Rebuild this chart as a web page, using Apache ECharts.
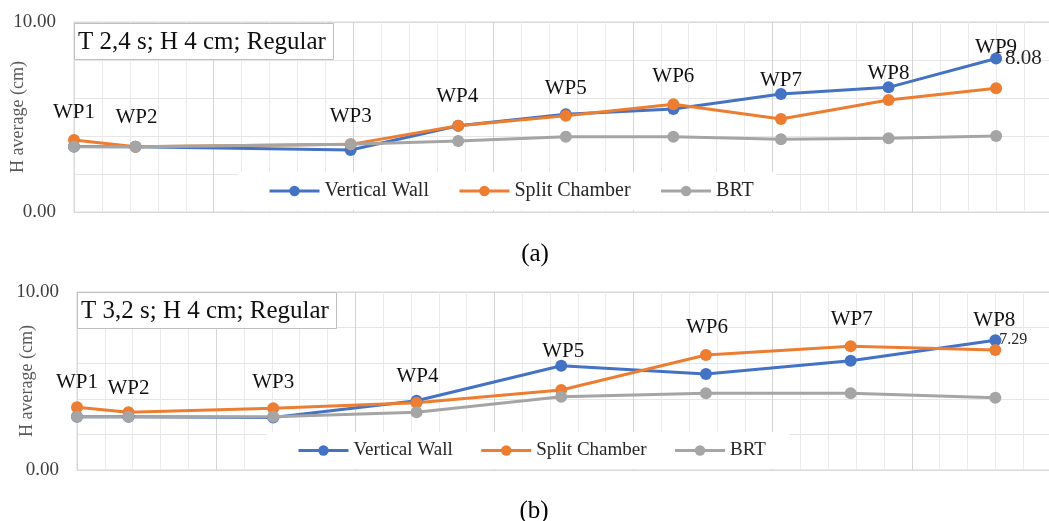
<!DOCTYPE html>
<html>
<head>
<meta charset="utf-8">
<title>H average along wave probes</title>
<script src="https://cdn.jsdelivr.net/npm/echarts@6/dist/echarts.min.js"></script>
<style>
  html, body { margin: 0; padding: 0; background: #fff; }
  #chart { width: 1049px; height: 521px; }
</style>
</head>
<body>
<div id="chart"></div>
<script>
// Probe names and their positions along the flume (one unit per major grid line)
const wpNamesA = ['WP1', 'WP2', 'WP3', 'WP4', 'WP5', 'WP6', 'WP7', 'WP8', 'WP9'];
const probeXA = [0, 0.44, 1.98, 2.75, 3.52, 4.29, 5.06, 5.83, 6.6];
// Case (a): T 2,4 s; H 4 cm; Regular — average wave height (cm)
const verticalWallA = [3.45, 3.44, 3.26, 4.54, 5.14, 5.42, 6.21, 6.56, 8.08];
const splitChamberA = [3.79, 3.44, 3.56, 4.54, 5.07, 5.67, 4.89, 5.89, 6.51];
const brtA = [3.44, 3.44, 3.56, 3.74, 3.96, 3.96, 3.83, 3.88, 4.00];

const wpNamesB = ['WP1', 'WP2', 'WP3', 'WP4', 'WP5', 'WP6', 'WP7', 'WP8'];
const probeXB = [0, 0.37, 1.41, 2.44, 3.48, 4.52, 5.56, 6.6];
// Case (b): T 3,2 s; H 4 cm; Regular
const verticalWallB = [2.99, 2.99, 2.95, 3.89, 5.86, 5.39, 6.14, 7.29];
const splitChamberB = [3.52, 3.24, 3.47, 3.78, 4.49, 6.46, 6.95, 6.74];
const brtB = [2.99, 2.99, 2.99, 3.24, 4.12, 4.31, 4.31, 4.06];

const seriesNames = ['Vertical Wall', 'Split Chamber', 'BRT'];
const yTicks = [0, 10];

// Hand-placed offsets (px) of the probe name labels, relative to the BRT markers
const wpLabelOffsetA = [[0, -34], [1, -29], [0, -28], [-1, -44], [0, -48], [0, -60], [0, -59], [0, -65], [0, -89]];
const wpLabelOffsetB = [[0, -34], [0, -28], [0, -34], [1, -36], [2, -45], [1, -66], [1, -74], [-1, -77]];

const SERIF = '"Liberation Serif", "Times New Roman", serif';
const COLORS = ['#4472C4', '#ED7D31', '#A5A5A5'];

function pairs(xs, ys) { return xs.map((x, i) => [x, ys[i]]); }

function axesFor(gridIndex, nameGap) {
  const x = {
    gridIndex, type: 'value', min: 0, max: 7, interval: 1,
    axisLabel: { show: false }, axisTick: { show: false },
    axisLine: { show: true, lineStyle: { color: '#d9d9d9', width: 1 } },
    splitLine: { show: true, lineStyle: { color: '#d4d4d4', width: 1 } },
    minorTick: { show: false, splitNumber: 5 },
    minorSplitLine: { show: true, lineStyle: { color: '#ebebeb', width: 1 } }
  };
  const y = {
    gridIndex, type: 'value', min: yTicks[0], max: yTicks[1], interval: yTicks[1] - yTicks[0],
    name: 'H average (cm)', nameLocation: 'middle', nameGap, nameMoveOverlap: false,
    nameTextStyle: { fontFamily: SERIF, fontSize: 18, color: '#595959' },
    axisLabel: { fontFamily: SERIF, fontSize: 19, color: '#404040', margin: 18,
                 formatter: v => v.toFixed(2) },
    axisTick: { show: false },
    axisLine: { show: true, lineStyle: { color: '#d9d9d9', width: 1 } },
    splitLine: { show: true, lineStyle: { color: '#d9d9d9', width: 1 } },
    minorTick: { show: false, splitNumber: 5 },
    minorSplitLine: { show: true, lineStyle: { color: '#e6e6e6', width: 1 } }
  };
  return [x, y];
}

function lineSeries(name, idx, gridIndex, xs, ys, extra) {
  return Object.assign({
    name, type: 'line', xAxisIndex: gridIndex, yAxisIndex: gridIndex,
    data: pairs(xs, ys),
    symbol: 'circle', symbolSize: 12,
    lineStyle: { color: COLORS[idx], width: 3 },
    itemStyle: { color: COLORS[idx] },
    emphasis: { disabled: true },
    animation: false
  }, extra || {});
}

function valueLabelOnLast(xs, ys, fontSize, distance) {
  return pairs(xs, ys).map((p, i) => i === ys.length - 1 ? {
    value: p,
    label: { show: true, position: 'right', distance, fontFamily: SERIF, fontSize,
             color: '#262626', formatter: () => ys[i].toFixed(2) }
  } : p);
}

function wpLabelled(xs, ys, names, offsets) {
  return pairs(xs, ys).map((p, i) => ({
    value: p,
    label: { show: true, position: 'inside', offset: offsets[i], fontFamily: SERIF,
             fontSize: 21, color: '#111', formatter: () => names[i] }
  }));
}

const [xa, ya] = axesFor(0, 47);
const [xb, yb] = axesFor(1, 41);

function legendBox(left, top, fontSize, gap, padding) {
  return {
    left, top, orient: 'horizontal', data: seriesNames,
    itemWidth: 50, itemHeight: 13, itemGap: gap,
    backgroundColor: '#fff', padding,
    selectedMode: false,
    lineStyle: { width: 3 },
    textStyle: { fontFamily: SERIF, fontSize, color: '#262626' }
  };
}

function captionBox(text, left, top) {
  return {
    text, left, top,
    backgroundColor: '#fff', borderColor: '#bfbfbf', borderWidth: 1,
    padding: [6, 8, 5, 4],
    textStyle: { fontFamily: SERIF, fontSize: 25, fontWeight: 'normal', color: '#111', lineHeight: 26 }
  };
}

const option = {
  animation: false,
  backgroundColor: '#fff',
  grid: [
    { left: 74, top: 22, width: 978, height: 190, show: true, borderColor: '#d9d9d9', borderWidth: 1,
      containLabel: false, outerBoundsMode: 'none' },
    { left: 77, top: 292, width: 974, height: 178, show: true, borderColor: '#d9d9d9', borderWidth: 1,
      containLabel: false, outerBoundsMode: 'none' }
  ],
  title: [
    captionBox('T 2,4 s; H 4 cm; Regular', 74, 23),
    captionBox('T 3,2 s; H 4 cm; Regular', 77, 292),
    { text: '(a)', left: 530, top: 237, textAlign: 'center',
      textStyle: { fontFamily: SERIF, fontSize: 25, fontWeight: 'normal', color: '#000' } },
    { text: '(b)', left: 529, top: 494, textAlign: 'center',
      textStyle: { fontFamily: SERIF, fontSize: 25, fontWeight: 'normal', color: '#000' } }
  ],
  legend: [
    legendBox(238, 172, 20, 29, [9, 23, 9, 30]),
    legendBox(267, 432, 19, 27, [9, 23, 9, 30])
  ],
  xAxis: [xa, xb],
  yAxis: [ya, yb],
  series: [
    lineSeries(seriesNames[0], 0, 0, probeXA, verticalWallA,
      { data: valueLabelOnLast(probeXA, verticalWallA, 21, 3) }),
    lineSeries(seriesNames[1], 1, 0, probeXA, splitChamberA),
    lineSeries(seriesNames[2], 2, 0, probeXA, brtA,
      { data: wpLabelled(probeXA, brtA, wpNamesA, wpLabelOffsetA) }),
    lineSeries(seriesNames[0], 0, 1, probeXB, verticalWallB,
      { data: valueLabelOnLast(probeXB, verticalWallB, 16, -2) }),
    lineSeries(seriesNames[1], 1, 1, probeXB, splitChamberB),
    lineSeries(seriesNames[2], 2, 1, probeXB, brtB,
      { data: wpLabelled(probeXB, brtB, wpNamesB, wpLabelOffsetB) })
  ]
};

const chart = echarts.init(document.getElementById('chart'), null, { renderer: 'canvas' });
chart.setOption(option);
</script>
</body>
</html>
